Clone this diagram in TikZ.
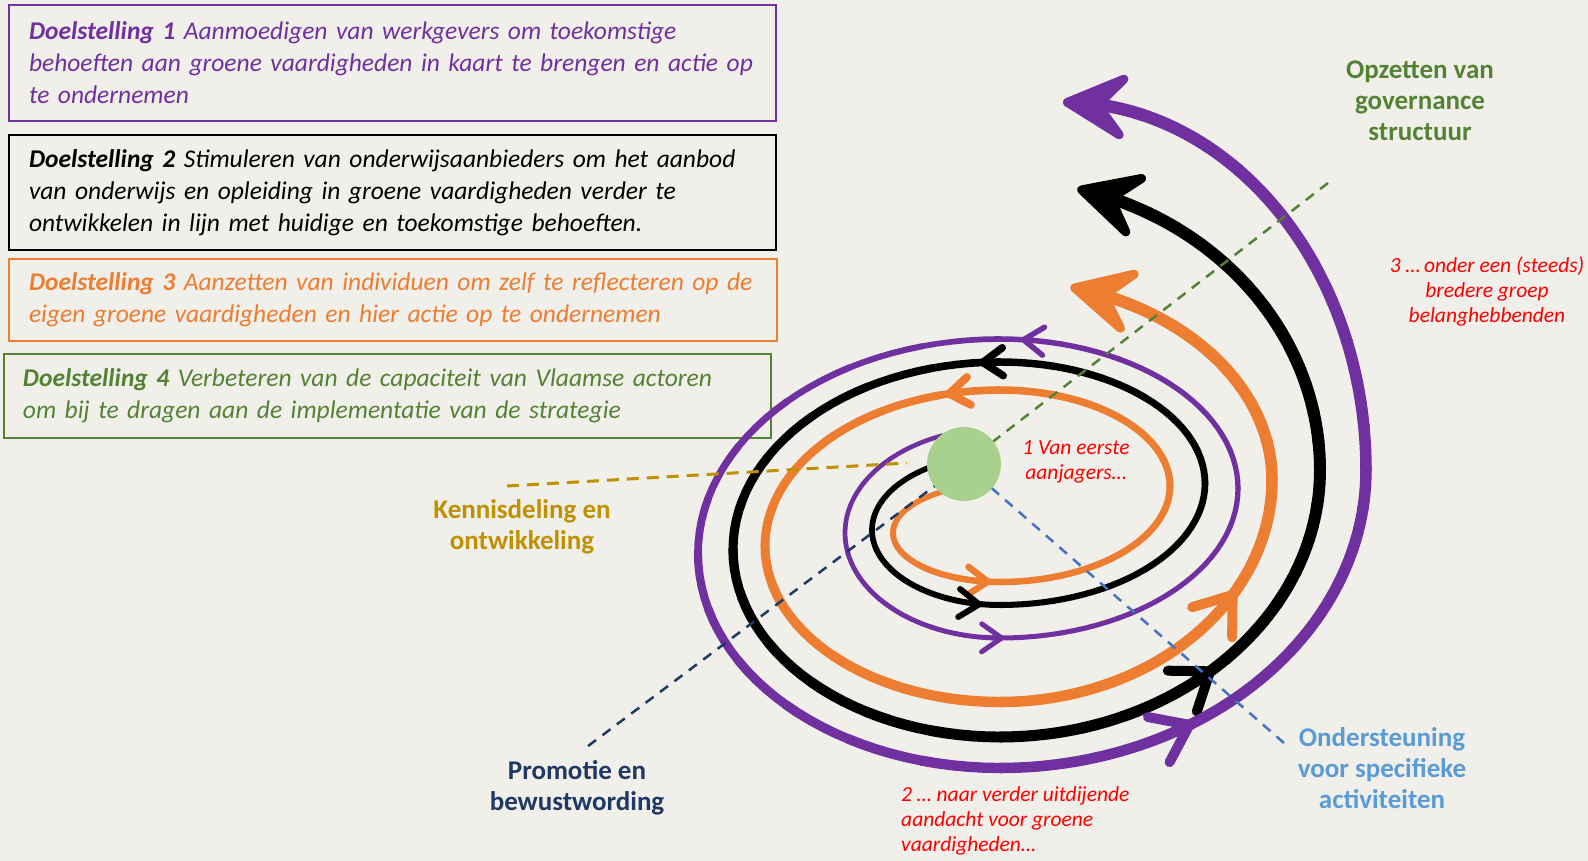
\documentclass[tikz,border=0pt]{standalone}
\usepackage{fontspec}
\setmainfont{Carlito}
\usetikzlibrary{arrows.meta}
\definecolor{bgc}{RGB}{240,239,233}
\definecolor{purp}{RGB}{112,48,160}
\definecolor{orng}{RGB}{237,125,49}
\definecolor{grn}{RGB}{84,130,53}
\definecolor{circg}{RGB}{169,209,142}
\definecolor{goldc}{RGB}{191,144,0}
\definecolor{navyc}{RGB}{31,56,100}
\definecolor{lblue}{RGB}{91,155,213}
\definecolor{mblue}{RGB}{68,114,196}
\definecolor{redc}{RGB}{255,0,0}
% elliptical arc with tapering width: color, cx, cy, rx, ry, a0, a1, w0, w1
\newcommand{\SpArc}[9]{%
  \foreach \spk in {1,...,12}{%
    \pgfmathsetmacro{\spA}{#6+(#7-#6)*(\spk-1)/12}%
    \pgfmathsetmacro{\spB}{#6+(#7-#6)*\spk/12}%
    \pgfmathsetmacro{\spW}{#8+(#9-#8)*(\spk-0.5)/12}%
    \draw[draw=#1, line width=\spW pt, line cap=round]
      plot[domain=\spA:\spB, samples=6, variable=\t] ({#2+#4*cos(\t)},{#3+#5*sin(\t)});%
  }}
% arrow tip on an ellipse: style, cx, cy, rx, ry, t, dt
\newcommand{\SpTip}[7]{%
  \draw[#1] ({#2+#4*cos(#6+#7)},{#3+#5*sin(#6+#7)}) -- ({#2+#4*cos(#6)},{#3+#5*sin(#6)});}
\newcommand{\boxfont}{\fontsize{25.5}{32}\selectfont\itshape}
\newcommand{\lblfont}{\fontsize{27}{31}\selectfont\bfseries}
\newcommand{\redfont}{\fontsize{21.5}{25}\selectfont\itshape}
\begin{document}
\begin{tikzpicture}[x=1pt,y=-1pt,
  goalbox/.style={draw, line width=2pt, anchor=north west, align=left,
    inner xsep=20pt, inner ysep=0pt, font=\boxfont},
  lbl/.style={align=center, font=\lblfont, inner sep=0pt},
  redlbl/.style={align=center, font=\redfont, text=redc, inner sep=0pt},
  inarrow/.style={-{Straight Barb[length=20pt,width=28pt,round]}},
  outarrow/.style={-{Straight Barb[length=34pt,width=50pt,round]}, line width=10pt},
  endarrow/.style={-{Stealth[length=82pt,width=84pt,inset=36pt,round]}, line width=9pt},
  dashln/.style={line width=2.5pt, dash pattern=on 10pt off 8pt}]
\fill[bgc] (0,0) rectangle (1588,861);
\useasboundingbox (0,0) rectangle (1588,861);

% goal boxes
\node[goalbox, draw=purp, text=purp, minimum width=767pt, minimum height=116pt, text width=727pt] (d1) at (8,4)
  {\mbox{\textbf{Doelstelling 1} Aanmoedigen van werkgevers om toekomstige}\\\mbox{behoeften aan groene vaardigheden in kaart te brengen en actie op}\\\mbox{te ondernemen}};
\node[goalbox, draw=black, text=black, minimum width=767pt, minimum height=115pt, text width=727pt] (d2) at (8,134)
  {\mbox{\textbf{Doelstelling 2} Stimuleren van onderwijsaanbieders om het aanbod}\\\mbox{van onderwijs en opleiding in groene vaardigheden verder te}\\\mbox{ontwikkelen in lijn met huidige en toekomstige behoeften.}};
\node[goalbox, draw=orng, text=orng, minimum width=768pt, minimum height=82pt, text width=728pt] (d3) at (8,258)
  {\mbox{\textbf{Doelstelling 3} Aanzetten van individuen om zelf te reflecteren op de}\\\mbox{eigen groene vaardigheden en hier actie op te ondernemen}};
\node[goalbox, draw=grn, text=grn, minimum width=767pt, minimum height=84pt, text width=729pt, inner xsep=19pt] (d4) at (3,353)
  {\mbox{\textbf{Doelstelling 4} Verbeteren van de capaciteit van Vlaamse actoren}\\\mbox{om bij te dragen aan de implementatie van de strategie}};

% orange spiral
\SpArc{orng}{1000}{533}{107}{49}{240}{90}{5.5}{6.5}
\SpArc{orng}{1000}{486}{170}{96}{90}{-90}{6.5}{7.5}
\SpArc{orng}{1000}{546}{235}{156}{270}{90}{7.5}{10.5}
\SpArc{orng}{1000}{480}{272}{222}{90}{0}{10.5}{11.5}
\SpArc{orng}{1000}{480}{272}{200}{0}{-67}{11.5}{12}
\SpTip{orng, inarrow, line width=6.5pt}{1000}{486}{170}{96}{93}{3}
\SpTip{orng, inarrow, line width=8pt}{1000}{546}{235}{156}{256.5}{3}
\SpTip{orng, outarrow}{1000}{480}{272}{222}{30}{3}
\SpTip{orng, endarrow}{1000}{480}{272}{200}{-75}{8}

% black spiral
\SpArc{black}{1000}{530}{128}{75}{240}{90}{5.5}{6}
\SpArc{black}{1000}{483.5}{205}{121.5}{90}{-90}{6}{7.5}
\SpArc{black}{1000}{549.5}{267}{187.5}{270}{90}{7.5}{11}
\SpArc{black}{1000}{470}{320}{267}{90}{0}{11}{12}
\SpArc{black}{1000}{470}{320}{290}{0}{-68}{12}{12.5}
\SpTip{black, inarrow, line width=6pt}{1000}{483.5}{205}{121.5}{95}{3}
\SpTip{black, inarrow, line width=7.5pt}{1000}{549.5}{267}{187.5}{265.5}{3}
\SpTip{black, outarrow}{1000}{470}{320}{267}{48}{3}
\SpTip{black, endarrow}{1000}{470}{320}{290}{-76}{8}

% purple spiral
\SpArc{purp}{1000}{533}{155}{105}{248}{90}{4.5}{5}
\SpArc{purp}{1000}{488.5}{238}{149.5}{90}{-90}{5}{5.5}
\SpArc{purp}{1000}{553.5}{302}{214.5}{270}{90}{5.5}{10.5}
\SpArc{purp}{1000}{470}{366}{298}{90}{0}{10.5}{11.5}
\SpArc{purp}{1063}{470}{303}{368}{0}{-82}{11.5}{12.5}
\SpTip{purp, inarrow, line width=5pt}{1000}{488.5}{238}{149.5}{89}{3}
\SpTip{purp, inarrow, line width=5.5pt}{1000}{488.5}{238}{149.5}{-85}{3}
\SpTip{purp, outarrow}{1000}{470}{366}{298}{58}{3}
\SpTip{purp, endarrow}{1063}{470}{303}{368}{-90}{8}

% hub and axes
\coordinate (hubc) at (964,464);
\coordinate (gEnd) at (907,463);
\node[lbl, text=goldc] (kd) at (522,527) {Kennisdeling en\\ontwikkeling};
\node[lbl, text=navyc] (pb) at (577,788) {Promotie en\\bewustwording};
\node[lbl, text=lblue] (os) at (1382,768) {Ondersteuning\\voor specifieke\\activiteiten};
\node[lbl, text=grn] (og) at (1420,101) {Opzetten van\\governance\\structuur};
\coordinate (kdT) at (507,486);
\coordinate (pbT) at (588,746);
\coordinate (osT) at (1284,743);
\coordinate (ogT) at (1328,183);
\draw[dashln, goldc, line width=3pt, dash pattern=on 12pt off 8pt] (kdT) -- (gEnd);
\draw[dashln, navyc] (pbT) -- (hubc);
\draw[dashln, mblue] (osT) -- (hubc);
\draw[dashln, grn] (ogT) -- (hubc);
\node[circle, fill=circg, minimum size=74pt, inner sep=0pt] (hub) at (hubc) {};

% red annotations
\node[redlbl] (r1) at (1076,462) {1 Van eerste\\aanjagers…};
\node[redlbl, align=left, anchor=west] (r2) at (901,821) {2 … naar verder uitdijende\\aandacht voor groene\\vaardigheden…};
\node[redlbl] (r3) at (1487,291) {3 …\,onder een (steeds)\\bredere groep\\belanghebbenden};
\end{tikzpicture}
\end{document}
